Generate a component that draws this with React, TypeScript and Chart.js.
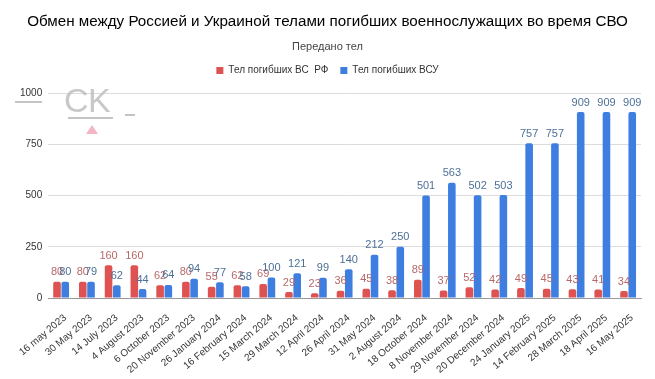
import React, { useEffect, useRef } from "react";
import { Chart, registerables } from "chart.js";

Chart.register(...registerables);

const categories = [
  "16 may 2023", "30 May 2023", "14 July 2023", "4 August 2023", "6 October 2023",
  "20 November 2023", "26 January 2024", "16 February 2024", "15 March 2024",
  "29 March 2024", "12 April 2024", "26 April 2024", "31 May 2024", "2 August 2024",
  "18 October 2024", "8 November 2024", "29 November 2024", "20 December 2024",
  "24 January 2025", "14 February 2025", "28 March 2025", "18 April 2025", "16 May 2025",
];
const bodiesRF = [80, 80, 160, 160, 62, 80, 55, 62, 69, 29, 23, 36, 45, 38, 89, 37, 52, 42, 49, 45, 43, 41, 34];
const bodiesUA = [80, 79, 62, 44, 64, 94, 77, 58, 100, 121, 99, 140, 212, 250, 501, 563, 502, 503, 757, 757, 909, 909, 909];
const yTicks = [0, 250, 500, 750, 1000];

const seriesNames = ["Тел погибших ВС  РФ", "Тел погибших ВСУ"];
const barColors = ["#df5252", "#3d7ee0"];
const labelColors = ["#b86868", "#4d7096"];

const valueLabels = {
  id: "valueLabels",
  afterDatasetsDraw(chart: any) {
    const ctx = chart.ctx;
    ctx.save();
    ctx.font = "11px 'Liberation Sans', Arial, sans-serif";
    ctx.textAlign = "center";
    ctx.textBaseline = "bottom";
    chart.data.datasets.forEach((ds: any, di: number) => {
      const meta = chart.getDatasetMeta(di);
      meta.data.forEach((el: any, i: number) => {
        ctx.fillStyle = labelColors[di];
        ctx.fillText(String(ds.data[i]), el.x, el.y - 4);
      });
    });
    ctx.restore();
  },
};

const legendSpacer = {
  id: "legendSpacer",
  beforeInit(chart: any) {
    const legend = chart.legend;
    if (!legend) return;
    const fit = legend.fit;
    legend.fit = function () {
      fit.call(this);
      this.height += 8;
    };
  },
};

const watermark = {
  id: "watermark",
  afterDraw(chart: any) {
    const ctx = chart.ctx;
    ctx.save();
    ctx.fillStyle = "rgba(190,190,190,0.85)";
    ctx.font = "34px 'Liberation Sans', Arial, sans-serif";
    ctx.textBaseline = "alphabetic";
    ctx.textAlign = "left";
    ctx.fillText("C", 64, 112);
    ctx.fillText("K", 88, 112);
    ctx.strokeStyle = "rgba(190,190,190,0.9)";
    ctx.lineWidth = 2;
    ctx.beginPath();
    ctx.moveTo(68, 118); ctx.lineTo(113, 118);
    ctx.moveTo(125, 115); ctx.lineTo(135, 115);
    ctx.moveTo(15, 102); ctx.lineTo(42, 102);
    ctx.stroke();
    ctx.fillStyle = "#f3b6c6";
    ctx.beginPath();
    ctx.moveTo(92, 125); ctx.lineTo(98, 134); ctx.lineTo(86, 134);
    ctx.closePath();
    ctx.fill();
    ctx.restore();
  },
};

export default function App() {
  const ref = useRef<HTMLCanvasElement | null>(null);
  useEffect(() => {
    document.body.style.margin = "0";
    if (!ref.current) return;
    const chart = new Chart(ref.current, {
      type: "bar",
      data: {
        labels: categories,
        datasets: [
          { label: seriesNames[0], data: bodiesRF, backgroundColor: barColors[0], borderRadius: 2, categoryPercentage: 0.64, barPercentage: 0.92 },
          { label: seriesNames[1], data: bodiesUA, backgroundColor: barColors[1], borderRadius: 2, categoryPercentage: 0.64, barPercentage: 0.92 },
        ],
      },
      options: {
        animation: false,
        responsive: false,
        layout: { padding: { left: 14, right: 14, bottom: 4 } },
        plugins: {
          title: {
            display: true,
            text: "Обмен между Россией и Украиной телами погибших военнослужащих во время СВО",
            color: "#000",
            font: { family: "'Liberation Sans', Arial, sans-serif", size: 15.2, weight: "normal" },
            padding: { top: 13, bottom: 9 },
          },
          subtitle: {
            display: true,
            text: "Передано тел",
            color: "#444",
            font: { family: "'Liberation Sans', Arial, sans-serif", size: 11 },
            padding: { bottom: 0 },
          },
          legend: {
            display: true,
            labels: {
              boxWidth: 7, boxHeight: 7, color: "#333",
              font: { family: "'Liberation Sans', Arial, sans-serif", size: 10 },
              padding: 12,
            },
          },
          tooltip: { enabled: false },
        },
        scales: {
          x: {
            grid: { display: false },
            border: { color: "#999" },
            afterFit(scale: any) { scale.height = 77; },
            ticks: {
              minRotation: 40, maxRotation: 40, color: "#333", padding: 6, labelOffset: 4,
              font: { family: "'Liberation Sans', Arial, sans-serif", size: 10 },
            },
          },
          y: {
            min: 0, max: 1000,
            afterBuildTicks(scale: any) { scale.ticks = yTicks.map((v) => ({ value: v })); },
            grid: { color: "#dcdcdc", drawTicks: false },
            border: { display: false },
            ticks: {
              color: "#333", padding: 6,
              callback: (v: any) => String(v),
              font: { family: "'Liberation Sans', Arial, sans-serif", size: 10 },
            },
          },
        },
      },
      plugins: [legendSpacer, valueLabels, watermark],
    });
    return () => chart.destroy();
  }, []);
  return <canvas ref={ref} width={655} height={379} style={{ display: "block" }} />;
}
